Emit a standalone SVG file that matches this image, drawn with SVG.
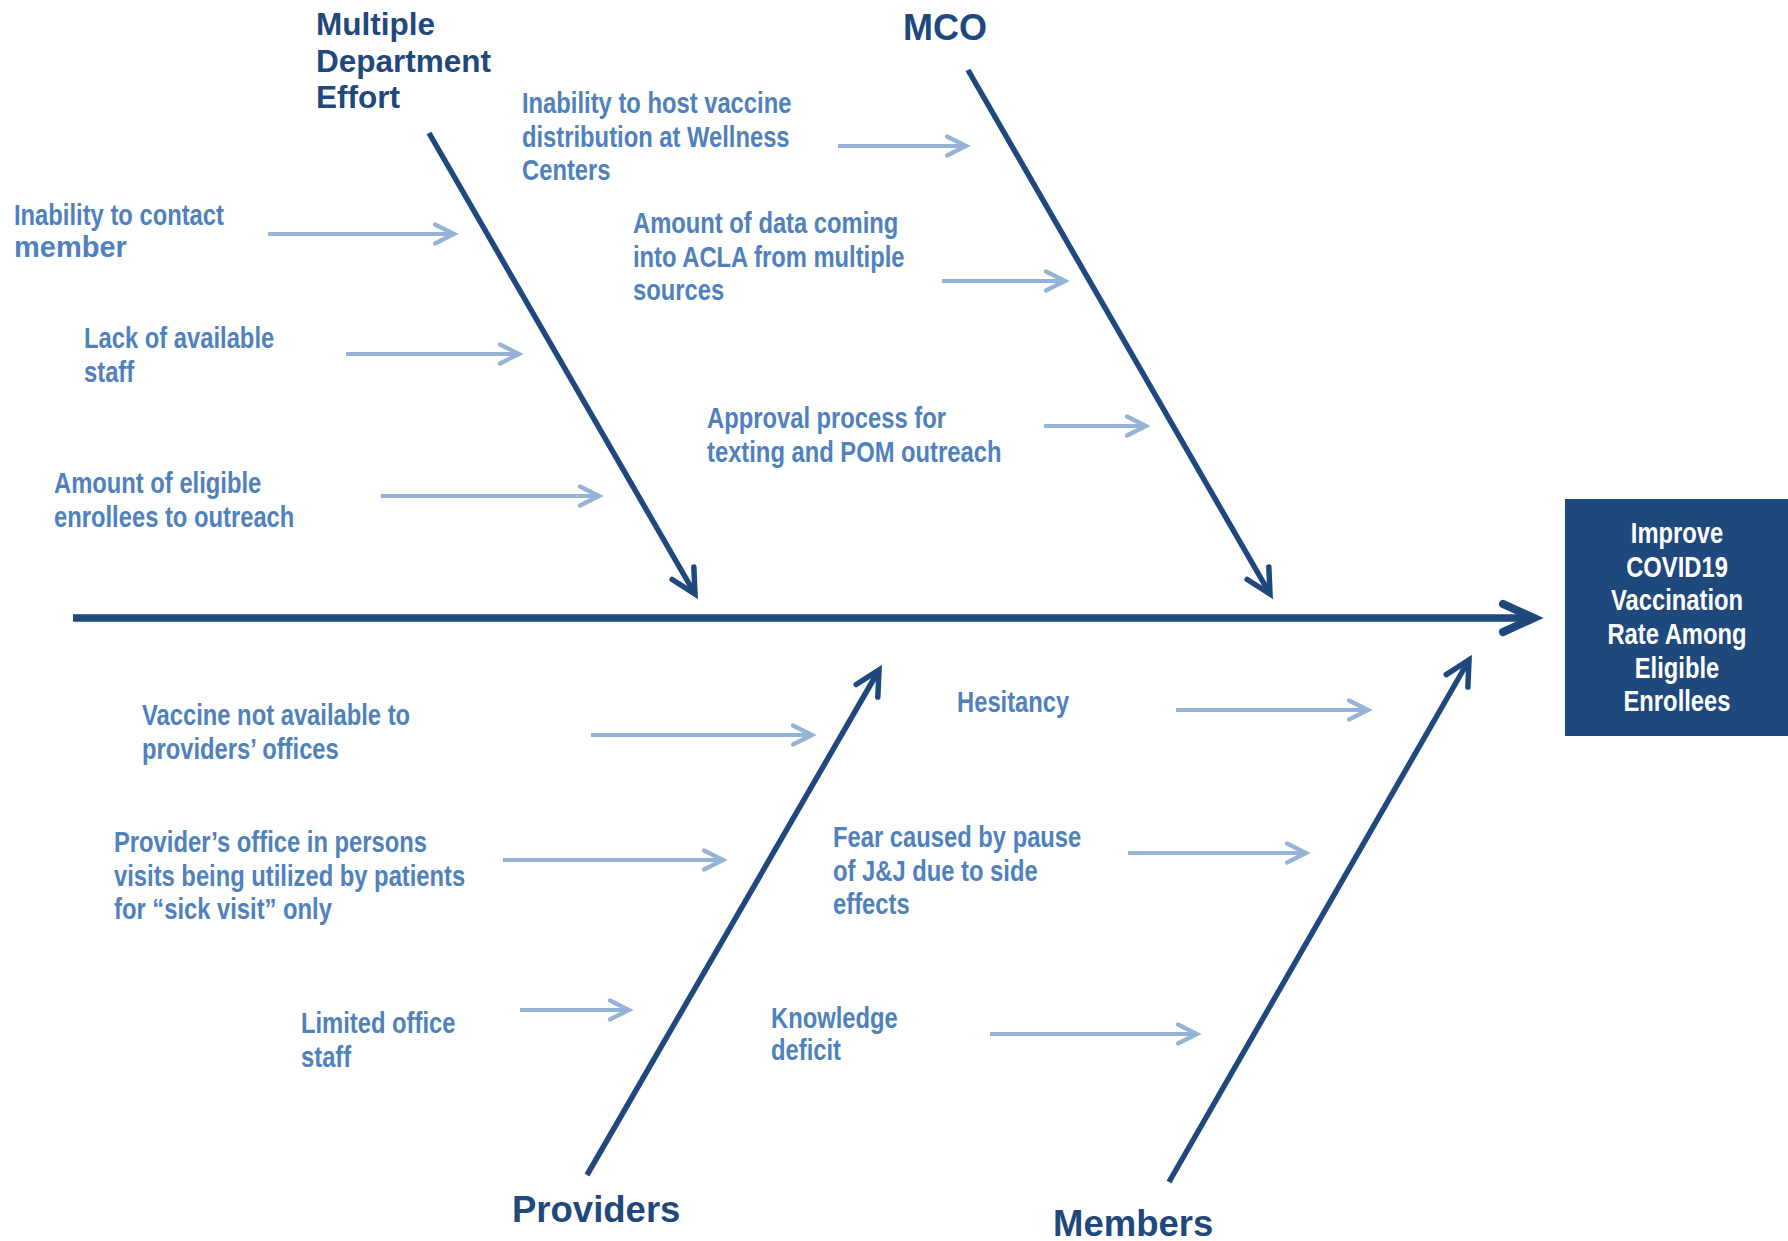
<svg xmlns="http://www.w3.org/2000/svg" width="1788" height="1241" viewBox="0 0 1788 1241">
  <style>
    .cat { font-family: "Liberation Sans", Arial, sans-serif; font-weight: bold; fill: #1F497D; }
    .c { font-family: "Liberation Sans", Arial, sans-serif; font-weight: bold; font-size: 29px; fill: #4F81BD; }
    .box { font-family: "Liberation Sans", Arial, sans-serif; font-weight: bold; font-size: 29px; fill: #FFFFFF; text-anchor: middle; }
    .bone { fill: none; stroke: #1F497D; stroke-width: 5.5; }
    .spine { fill: none; stroke: #1F497D; stroke-width: 7.5; }
    .cause { fill: none; stroke: #95B3D7; stroke-width: 4.2; }
  </style>
  <defs>
    <marker id="ahSpine" markerUnits="userSpaceOnUse" viewBox="-40 -22 46 44" refX="0" refY="0" markerWidth="46" markerHeight="44" orient="auto" overflow="visible">
      <path d="M-31,-14 L0,0 L-31,14" fill="none" stroke="#1F497D" stroke-width="8" stroke-linecap="round" stroke-linejoin="miter"/>
    </marker>
    <marker id="ahBone" markerUnits="userSpaceOnUse" viewBox="-32 -18 36 36" refX="0" refY="0" markerWidth="36" markerHeight="36" orient="auto" overflow="visible">
      <path d="M-24,-12.5 L0,0 L-24,12.5" fill="none" stroke="#1F497D" stroke-width="5.5" stroke-linecap="round" stroke-linejoin="miter"/>
    </marker>
    <marker id="ahCause" markerUnits="userSpaceOnUse" viewBox="-26 -14 30 28" refX="0" refY="0" markerWidth="30" markerHeight="28" orient="auto" overflow="visible">
      <path d="M-19,-9.5 L0,0 L-19,9.5" fill="none" stroke="#95B3D7" stroke-width="4.2" stroke-linecap="round" stroke-linejoin="miter"/>
    </marker>
  </defs>

  <g id="connectors">
    <line class="spine" x1="73" y1="618" x2="1534" y2="618" marker-end="url(#ahSpine)"/>
    <line class="bone" x1="429" y1="133" x2="695" y2="594" marker-end="url(#ahBone)"/>
    <line class="bone" x1="968" y1="70" x2="1270" y2="594" marker-end="url(#ahBone)"/>
    <line class="bone" x1="587" y1="1175" x2="879" y2="670" marker-end="url(#ahBone)"/>
    <line class="bone" x1="1169" y1="1182" x2="1469" y2="660" marker-end="url(#ahBone)"/>

    <line class="cause" x1="268" y1="234" x2="454" y2="234" marker-end="url(#ahCause)"/>
    <line class="cause" x1="346" y1="354" x2="519" y2="354" marker-end="url(#ahCause)"/>
    <line class="cause" x1="381" y1="496" x2="599" y2="496" marker-end="url(#ahCause)"/>
    <line class="cause" x1="838" y1="146" x2="966" y2="146" marker-end="url(#ahCause)"/>
    <line class="cause" x1="942" y1="281" x2="1065" y2="281" marker-end="url(#ahCause)"/>
    <line class="cause" x1="1044" y1="426" x2="1146" y2="426" marker-end="url(#ahCause)"/>
    <line class="cause" x1="591" y1="735" x2="812" y2="735" marker-end="url(#ahCause)"/>
    <line class="cause" x1="503" y1="860" x2="723" y2="860" marker-end="url(#ahCause)"/>
    <line class="cause" x1="520" y1="1010" x2="629" y2="1010" marker-end="url(#ahCause)"/>
    <line class="cause" x1="1176" y1="710" x2="1368" y2="710" marker-end="url(#ahCause)"/>
    <line class="cause" x1="1128" y1="853" x2="1306" y2="853" marker-end="url(#ahCause)"/>
    <line class="cause" x1="990" y1="1034" x2="1197" y2="1034" marker-end="url(#ahCause)"/>
  </g>

  <g id="cat-mde">
    <text class="cat" font-size="31.5"><tspan x="316" y="35">Multiple</tspan><tspan x="316" y="72">Department</tspan><tspan x="316" y="108">Effort</tspan></text>
  </g>
  <g id="cat-mco">
    <text class="cat" font-size="36" x="903" y="40">MCO</text>
  </g>
  <g id="cat-providers">
    <text class="cat" font-size="36.5" x="512" y="1222">Providers</text>
  </g>
  <g id="cat-members">
    <text class="cat" font-size="36.5" x="1053" y="1236">Members</text>
  </g>

  <g id="effect">
    <rect x="1565" y="499" width="223" height="237" fill="#1F497D"/>
    <text class="box" transform="translate(1677,543) scale(0.82,1)"><tspan x="0" y="0">Improve</tspan><tspan x="0" y="33.7">COVID19</tspan><tspan x="0" y="67.4">Vaccination</tspan><tspan x="0" y="101.1">Rate Among</tspan><tspan x="0" y="134.8">Eligible</tspan><tspan x="0" y="168.5">Enrollees</tspan></text>
  </g>

  <g id="cause-contact">
    <text class="c" transform="translate(14,225) scale(0.82,1)">Inability to contact</text>
    <text class="c" x="14" y="257">member</text>
  </g>
  <g id="cause-staff">
    <text class="c" transform="translate(84,348) scale(0.82,1)"><tspan x="0" y="0">Lack of available</tspan><tspan x="0" y="33.6">staff</tspan></text>
  </g>
  <g id="cause-eligible">
    <text class="c" transform="translate(54,493) scale(0.82,1)"><tspan x="0" y="0">Amount of eligible</tspan><tspan x="0" y="33.6">enrollees to outreach</tspan></text>
  </g>
  <g id="cause-wellness">
    <text class="c" transform="translate(522,113) scale(0.82,1)"><tspan x="0" y="0">Inability to host vaccine</tspan><tspan x="0" y="33.6">distribution at Wellness</tspan><tspan x="0" y="67.2">Centers</tspan></text>
  </g>
  <g id="cause-data">
    <text class="c" transform="translate(633,233) scale(0.82,1)"><tspan x="0" y="0">Amount of data coming</tspan><tspan x="0" y="33.6">into ACLA from multiple</tspan><tspan x="0" y="67.2">sources</tspan></text>
  </g>
  <g id="cause-approval">
    <text class="c" transform="translate(707,428) scale(0.82,1)"><tspan x="0" y="0">Approval process for</tspan><tspan x="0" y="33.6">texting and POM outreach</tspan></text>
  </g>
  <g id="cause-vaccine">
    <text class="c" transform="translate(142,725) scale(0.82,1)"><tspan x="0" y="0">Vaccine not available to</tspan><tspan x="0" y="33.6">providers’ offices</tspan></text>
  </g>
  <g id="cause-sickvisit">
    <text class="c" transform="translate(114,852) scale(0.82,1)"><tspan x="0" y="0">Provider’s office in persons</tspan><tspan x="0" y="33.6">visits being utilized by patients</tspan><tspan x="0" y="67.2">for “sick visit” only</tspan></text>
  </g>
  <g id="cause-officestaff">
    <text class="c" transform="translate(301,1033) scale(0.82,1)"><tspan x="0" y="0">Limited office</tspan><tspan x="0" y="33.6">staff</tspan></text>
  </g>
  <g id="cause-hesitancy">
    <text class="c" transform="translate(957,712) scale(0.82,1)">Hesitancy</text>
  </g>
  <g id="cause-fear">
    <text class="c" transform="translate(833,847) scale(0.82,1)"><tspan x="0" y="0">Fear caused by pause</tspan><tspan x="0" y="33.6">of J&amp;J due to side</tspan><tspan x="0" y="67.2">effects</tspan></text>
  </g>
  <g id="cause-knowledge">
    <text class="c" transform="translate(771,1028) scale(0.82,1)"><tspan x="0" y="0">Knowledge</tspan><tspan x="0" y="32.5">deficit</tspan></text>
  </g>
</svg>
